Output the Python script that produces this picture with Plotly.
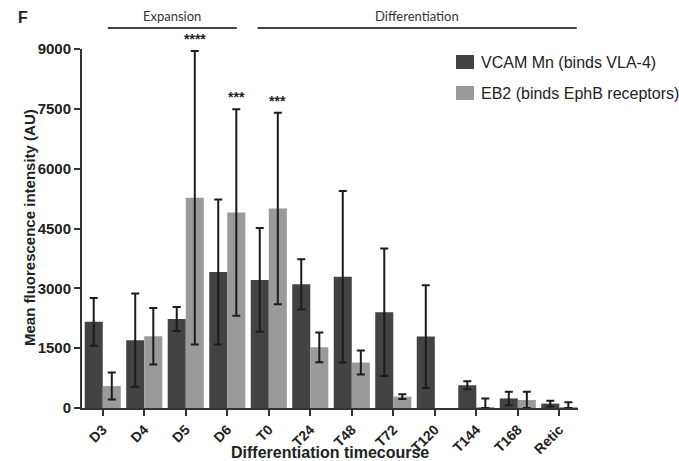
import plotly.graph_objects as go

# Timepoints along the culture
categories = ["D3", "D4", "D5", "D6", "T0", "T24", "T48", "T72", "T120", "T144", "T168", "Retic"]

# Mean fluorescence intensity (AU) and error for each probe (None = not measured)
vcam_mean = [2160, 1700, 2230, 3410, 3210, 3100, 3290, 2400, 1790, 570, 240, 110]
vcam_err = [600, 1170, 300, 1820, 1300, 630, 2150, 1600, 1290, 100, 170, 70]
eb2_mean = [550, 1800, 5270, 4900, 5000, 1520, 1140, 285, None, 10, 200, 15]
eb2_err = [340, 710, 3680, 2590, 2400, 375, 300, 60, None, 230, 210, 130]

# Significance marks on the EB2 bars
sig_points = ["D5", "D6", "T0"]
sig_labels = ["****", "***", "***"]

y_ticks = [0, 1500, 3000, 4500, 6000, 7500, 9000]

series_names = ["VCAM Mn (binds VLA-4)", "EB2 (binds EphB receptors)"]
dark = "#434343"
light = "#9a9a9a"
err_col = "#1c1c1c"

W, H = 679, 461
L, R, T, B = 82, 101, 49, 53
PW, PH = W - L - R, H - T - B


def px_x(px):
    return (px - L) / PW


def px_y(py):
    return (H - B - py) / PH


def lower_err(err, mean):
    return [None if e is None else min(e, m) for e, m in zip(err, mean)]


fig = go.Figure()

fig.add_trace(go.Bar(
    x=categories, y=vcam_mean, name=series_names[0], marker_color=dark,
    marker_line_width=0, showlegend=False,
    error_y=dict(type="data", array=vcam_err, arrayminus=lower_err(vcam_err, vcam_mean),
                 color=err_col, thickness=2, width=4, visible=True),
))
fig.add_trace(go.Bar(
    x=categories, y=eb2_mean, name=series_names[1], marker_color=light,
    marker_line_width=0, showlegend=False,
    error_y=dict(type="data", array=eb2_err, arrayminus=lower_err(eb2_err, eb2_mean),
                 color=err_col, thickness=2, width=4, visible=True),
))

# Stars above the EB2 error bars
for cat, lab in zip(sig_points, sig_labels):
    i = categories.index(cat)
    top = eb2_mean[i] + eb2_err[i]
    fig.add_annotation(x=cat, y=top, xref="x", yref="y", text=lab, showarrow=False,
                       xshift=9, yanchor="bottom", yshift=2,
                       font=dict(family="Liberation Sans", size=14, color="#222", weight="bold"))

# Phase brackets: Expansion (D3-D6) and Differentiation (T0-Retic)
bracket_y = px_y(28)
for x0, x1, lab in [(0.12, 3.23, "Expansion"), (3.73, 11.42, "Differentiation")]:
    fig.add_shape(type="line", xref="x", yref="paper", x0=x0, x1=x1,
                  y0=bracket_y, y1=bracket_y, line=dict(color="#444", width=1.8))
    fig.add_annotation(x=(x0 + x1) / 2, y=bracket_y, xref="x", yref="paper", text=lab,
                       showarrow=False, yanchor="bottom", yshift=2,
                       font=dict(family="Lato", size=13, color="#333"))

# Legend entries
for k, (name, col) in enumerate(zip(series_names, [dark, light])):
    cy = 62 + 31 * k
    fig.add_shape(type="rect", xref="paper", yref="paper",
                  x0=px_x(456), x1=px_x(474), y0=px_y(cy - 7), y1=px_y(cy + 7),
                  fillcolor=col, line=dict(width=0))
    fig.add_annotation(x=px_x(479), y=px_y(cy), xref="paper", yref="paper", text=name,
                       showarrow=False, xanchor="left", yanchor="middle",
                       font=dict(family="Liberation Sans", size=16, color="#222"))

# Panel letter
fig.add_annotation(x=px_x(16), y=px_y(17), xref="paper", yref="paper", text="F",
                   showarrow=False, xanchor="left", yanchor="middle",
                   font=dict(family="Liberation Sans", size=16, color="#222", weight="bold"))

# Axis titles
fig.add_annotation(x=0.5, y=px_y(452), xref="paper", yref="paper",
                   text="Differentiation timecourse", showarrow=False,
                   xanchor="center", yanchor="middle",
                   font=dict(family="Liberation Sans", size=16, color="#222", weight="bold"))
fig.add_annotation(x=px_x(29), y=px_y(228), xref="paper", yref="paper",
                   text="Mean fluorescence intensity (AU)", showarrow=False, textangle=-90,
                   xanchor="center", yanchor="middle",
                   font=dict(family="Liberation Sans", size=15, color="#222", weight="bold"))

fig.update_layout(
    width=W, height=H,
    margin=dict(l=L, r=R, t=T, b=B, pad=0, autoexpand=False),
    paper_bgcolor="white", plot_bgcolor="white",
    barmode="group", bargap=0.13, bargroupgap=0,
    showlegend=False,
    xaxis=dict(
        type="category", range=[-0.5, 11.45], automargin=False,
        showline=True, linecolor="#333", linewidth=2,
        ticks="outside", ticklen=6, tickwidth=1.5, tickcolor="#333",
        tickangle=-45, showgrid=False, zeroline=False,
        tickfont=dict(family="Liberation Sans", size=14, color="#222", weight="bold"),
    ),
    yaxis=dict(
        range=[0, 9000], tickvals=y_ticks, ticktext=[str(v) for v in y_ticks],
        automargin=False,
        showline=True, linecolor="#333", linewidth=2,
        ticks="outside", ticklen=6, tickwidth=1.5, tickcolor="#333",
        showgrid=False, zeroline=False,
        tickfont=dict(family="Liberation Sans", size=15, color="#222", weight="bold"),
    ),
)

fig.write_html("out.html")
